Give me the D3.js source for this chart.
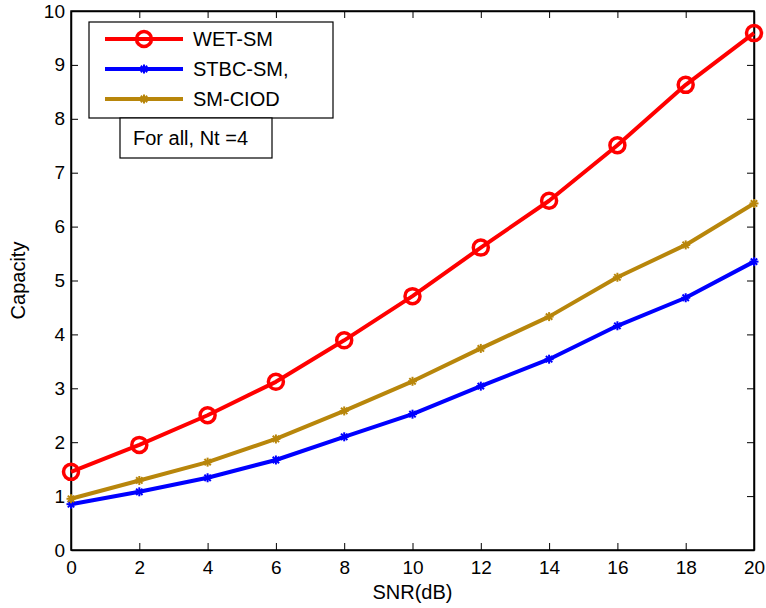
<!DOCTYPE html>
<html>
<head>
<meta charset="utf-8">
<script src="https://cdn.jsdelivr.net/npm/d3@7"></script>
<style>
body { margin: 0; background: #fff; }
svg text { font-family: "Liberation Sans", Arial, sans-serif; fill: #000; }
</style>
</head>
<body>
<script>
// values
var snr = [0, 2, 4, 6, 8, 10, 12, 14, 16, 18, 20];
var wetSM = [1.45, 1.95, 2.50, 3.12, 3.89, 4.71, 5.61, 6.48, 7.51, 8.63, 9.59];
var stbcSM = [0.85, 1.08, 1.34, 1.67, 2.10, 2.52, 3.04, 3.54, 4.16, 4.68, 5.35];
var smCIOD = [0.95, 1.29, 1.63, 2.06, 2.58, 3.13, 3.74, 4.33, 5.06, 5.66, 6.43];
var seriesNames = ["WET-SM", "STBC-SM,", "SM-CIOD"];
var seriesColors = ["#ff0000", "#0000ff", "#b8860b"];
var xTicks = [0, 2, 4, 6, 8, 10, 12, 14, 16, 18, 20];
var yTicks = [0, 1, 2, 3, 4, 5, 6, 7, 8, 9, 10];
var noteText = "For all, Nt =4";

var W = 766, H = 608;
var m = {left: 71, right: 12, top: 11, bottom: 58};
var iw = W - m.left - m.right, ih = H - m.top - m.bottom;
var fsTick = '19px', fsText = '20px';

var svg = d3.select('body').append('svg').attr('width', W).attr('height', H);
var g = svg.append('g').attr('transform', 'translate(' + m.left + ',' + m.top + ')');

var x = d3.scaleLinear().domain([0, 20]).range([0, iw]);
var y = d3.scaleLinear().domain([0, 10]).range([ih, 0]);

/* axes with inward ticks on all four sides */
g.append('g').attr('transform', 'translate(0,' + ih + ')')
	.call(d3.axisBottom(x).tickValues(xTicks).tickSizeInner(-7).tickSizeOuter(0).tickPadding(11).tickFormat(d3.format('d')));
g.append('g')
	.call(d3.axisTop(x).tickValues(xTicks).tickSizeInner(-7).tickSizeOuter(0).tickFormat(''));
g.append('g')
	.call(d3.axisLeft(y).tickValues(yTicks).tickSizeInner(-7).tickSizeOuter(0).tickPadding(6).tickFormat(d3.format('d')));
g.append('g').attr('transform', 'translate(' + iw + ',0)')
	.call(d3.axisRight(y).tickValues(yTicks).tickSizeInner(-7).tickSizeOuter(0).tickFormat(''));
g.selectAll('.domain').attr('stroke', '#000').attr('stroke-width', 1.5);
g.selectAll('.tick line').attr('stroke', '#000');
g.selectAll('.tick text').style('font-size', fsTick);

g.append('rect').attr('width', iw).attr('height', ih)
	.attr('fill', 'none').attr('stroke', '#000').attr('stroke-width', 1.5);

svg.append('text').attr('x', m.left + iw / 2).attr('y', 599)
	.attr('text-anchor', 'middle').style('font-size', fsText).text('SNR(dB)');
svg.append('text').attr('transform', 'translate(25,' + (m.top + ih / 2) + ') rotate(-90)')
	.attr('text-anchor', 'middle').style('font-size', fsText).text('Capacity');

var line = d3.line().x(function(d){ return x(d[0]); }).y(function(d){ return y(d[1]); });
var series = [wetSM, stbcSM, smCIOD];

function drawMarker(sel, i){
	if(i === 0){
		sel.append('circle').attr('r', 7.5).attr('fill', 'none')
			.attr('stroke', seriesColors[i]).attr('stroke-width', 3.5);
	}else{
		// small asterisk
		[0, 45, 90, 135].forEach(function(a){
			sel.append('line').attr('x1', -4.5).attr('x2', 4.5).attr('y1', 0).attr('y2', 0)
				.attr('transform', 'rotate(' + a + ')')
				.attr('stroke', seriesColors[i]).attr('stroke-width', 2);
		});
	}
}

series.forEach(function(vals, i){
	var pts = snr.map(function(s, k){ return [s, vals[k]]; });
	g.append('path').datum(pts).attr('d', line)
		.attr('fill', 'none').attr('stroke', seriesColors[i]).attr('stroke-width', 4)
		.attr('stroke-linejoin', 'round');
	g.selectAll('g.mk' + i).data(pts).enter().append('g').attr('class', 'mk' + i)
		.attr('transform', function(d){ return 'translate(' + x(d[0]) + ',' + y(d[1]) + ')'; })
		.each(function(){ drawMarker(d3.select(this), i); });
});

/* legend */
var leg = svg.append('g').attr('transform', 'translate(89,22)');
leg.append('rect').attr('width', 244).attr('height', 96)
	.attr('fill', '#fff').attr('stroke', '#000').attr('stroke-width', 1.2);
seriesNames.forEach(function(name, i){
	var row = leg.append('g').attr('transform', 'translate(0,' + (17 + i * 30) + ')');
	row.append('line').attr('x1', 16).attr('x2', 94).attr('y1', 0).attr('y2', 0)
		.attr('stroke', seriesColors[i]).attr('stroke-width', 4);
	var mk = row.append('g').attr('transform', 'translate(55,0)');
	drawMarker(mk, i);
	row.append('text').attr('x', 104).attr('y', 7).style('font-size', fsText).text(name);
});

/* note box */
var note = svg.append('g').attr('transform', 'translate(120,118)');
note.append('rect').attr('width', 152).attr('height', 40)
	.attr('fill', '#fff').attr('stroke', '#000').attr('stroke-width', 1.2);
note.append('text').attr('x', 13).attr('y', 27).style('font-size', fsText).text(noteText);
</script>
</body>
</html>
